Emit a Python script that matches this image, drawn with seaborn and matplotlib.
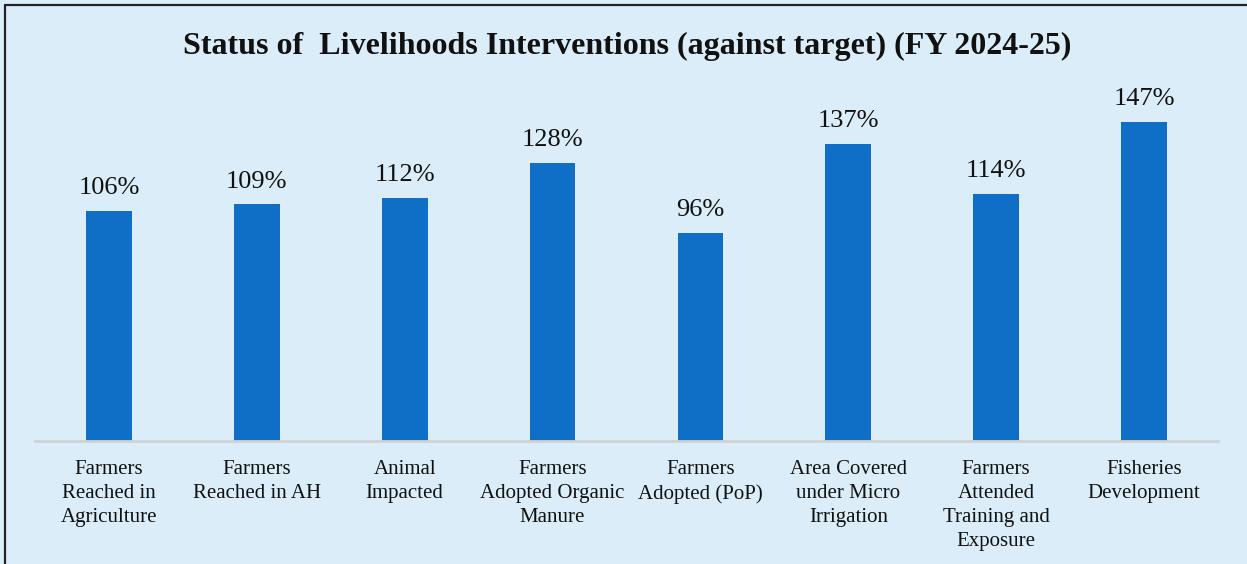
import matplotlib
matplotlib.use("Agg")
import matplotlib.pyplot as plt
import seaborn as sns
import pandas as pd
from matplotlib.lines import Line2D

categories = [
    "Farmers\nReached in\nAgriculture",
    "Farmers\nReached in AH",
    "Animal\nImpacted",
    "Farmers\nAdopted Organic\nManure",
    "Farmers\nAdopted (PoP)",
    "Area Covered\nunder Micro\nIrrigation",
    "Farmers\nAttended\nTraining and\nExposure",
    "Fisheries\nDevelopment",
]
values = [106, 109, 112, 128, 96, 137, 114, 147]
title = "Status of  Livelihoods Interventions (against target) (FY 2024-25)"

bg = "#DAEDF8"
bar_color = "#0F6FC6"

sns.set_theme(style="white")
plt.rcParams["font.family"] = ["Liberation Serif", "DejaVu Serif"]

W, H = 1247, 564
fig = plt.figure(figsize=(W / 100, H / 100), dpi=100)
fig.patch.set_facecolor(bg)

x0, x1 = 35, 1218
ybase, ytop = 441, 90
ax = fig.add_axes([x0 / W, (H - ybase) / H, (x1 - x0) / W, (ybase - ytop) / H])
ax.set_facecolor("none")

df = pd.DataFrame({"cat": categories, "val": values})
sns.barplot(data=df, x="cat", y="val", color=bar_color, saturation=1, width=0.31,
            linewidth=0, edgecolor="none", ax=ax)

ax.set_ylim(0, (ybase - ytop) / 2.17)
ax.set_xlim(-0.5, len(categories) - 0.5)
for s in ["top", "right", "left"]:
    ax.spines[s].set_visible(False)
ax.spines["bottom"].set_color("#D0D3D6")
ax.spines["bottom"].set_linewidth(2)
ax.set_yticks([])
ax.set_xlabel("")
ax.set_ylabel("")
ax.tick_params(axis="x", length=0, pad=14)
for lab in ax.get_xticklabels():
    lab.set_fontsize(15)
    lab.set_linespacing(1.34)
    lab.set_color("#111111")

for i, v in enumerate(values):
    ax.annotate(f"{v}%", (i, v), xytext=(0, 8.5), textcoords="offset points",
                ha="center", va="bottom", fontsize=19, color="#111111")

fig.text(627 / W, 1 - 46 / H, title, ha="center", va="center",
         fontsize=23, fontweight="bold", color="#111111")

# border on left and top
fig.add_artist(Line2D([5 / W, 5 / W], [0, 1 - 5 / H], transform=fig.transFigure, color="#222222", lw=1.6))
fig.add_artist(Line2D([5 / W, 1], [1 - 5 / H, 1 - 5 / H], transform=fig.transFigure, color="#222222", lw=1.6))

fig.savefig("out.png", dpi=100, facecolor=bg)
